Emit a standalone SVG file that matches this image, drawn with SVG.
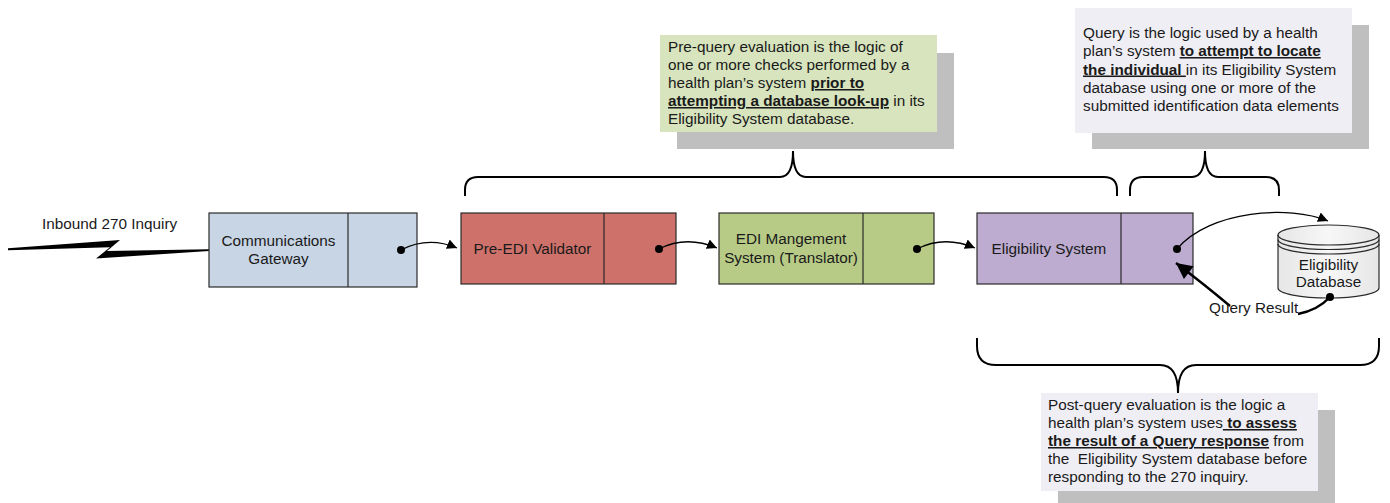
<svg xmlns="http://www.w3.org/2000/svg" width="1390" height="503" viewBox="0 0 1390 503">
<defs>
<style>
text{font-family:"Liberation Sans",Arial,sans-serif;font-size:15.3px;fill:#1a1a1a;white-space:pre}
.c{text-anchor:middle}
.b{font-weight:bold;text-decoration:underline}
.box{stroke:#2b2b2b;stroke-width:1.2}
.shadow{fill:#bfbfbf}
.brace{fill:none;stroke:#000;stroke-width:2}
.conn{fill:none;stroke:#000;stroke-width:1.3}
.thick{fill:none;stroke:#000;stroke-width:2.5}
</style>
<marker id="arr" viewBox="0 0 10 10" refX="10" refY="5" markerWidth="10" markerHeight="10" markerUnits="userSpaceOnUse" orient="auto">
<path d="M0,0 L10,5 L0,10 Z" fill="#000"/>
</marker>
<marker id="arrBig" viewBox="0 0 10 10" refX="10" refY="5" markerWidth="18" markerHeight="16" markerUnits="userSpaceOnUse" orient="auto">
<path d="M0,0 L10,5 L0,10 Z" fill="#000"/>
</marker>
<linearGradient id="dbfill" x1="0" y1="0" x2="1" y2="0">
<stop offset="0" stop-color="#e6e6e6"/>
<stop offset="0.5" stop-color="#f7f7f7"/>
<stop offset="1" stop-color="#e6e6e6"/>
</linearGradient>
</defs>
<rect width="1390" height="503" fill="#fff"/>

<g id="note-prequery">
<rect class="shadow" x="677" y="53" width="277" height="96"/>
<rect x="660" y="35" width="277" height="97" fill="#d7e4bd"/>
<text x="668" y="52">Pre-query evaluation is the logic of</text>
<text x="668" y="70">one or more checks performed by a</text>
<text x="668" y="88">health plan’s system <tspan class="b">prior to</tspan></text>
<text x="668" y="106"><tspan class="b">attempting a database look-up</tspan> in its</text>
<text x="668" y="124">Eligibility System database.</text>
</g>

<g id="note-query">
<rect class="shadow" x="1092" y="25" width="277" height="124"/>
<rect x="1075" y="8" width="277" height="125" fill="#efeef4"/>
<text x="1083" y="38">Query is the logic used by a health</text>
<text x="1083" y="56">plan’s system <tspan class="b">to attempt to locate</tspan></text>
<text x="1083" y="74.5"><tspan class="b">the individual </tspan>in its Eligibility System</text>
<text x="1083" y="92.5">database using one or more of the</text>
<text x="1083" y="111">submitted identification data elements</text>
</g>

<g id="note-postquery">
<rect class="shadow" x="1058" y="410" width="277" height="93"/>
<rect x="1041" y="393" width="277" height="98" fill="#efeef4"/>
<text x="1048" y="410">Post-query evaluation is the logic a</text>
<text x="1048" y="428">health plan’s system uses<tspan class="b"> to assess</tspan></text>
<text x="1048" y="446"><tspan class="b">the result of a Query response</tspan> from</text>
<text x="1048" y="464">the  Eligibility System database before</text>
<text x="1048" y="482">responding to the 270 inquiry.</text>
</g>

<g id="braces">
<path class="brace" d="M465,196 V190 Q465,177 478,177 H780 Q793,177 793,151 Q793,177 806,177 H1104 Q1117,177 1117,190 V196"/>
<path class="brace" d="M1130,196 V190 Q1130,177 1143,177 H1192 Q1205,177 1205,151 Q1205,177 1218,177 H1266 Q1279,177 1279,190 V196"/>
<path class="brace" d="M977,338 V346 Q977,365 996,365 H1160 Q1178,365 1178,393 Q1178,365 1196,365 H1360 Q1379,365 1379,346 V338"/>
</g>

<g id="inbound">
<polygon points="8,248.3 120,240 107,251 209,249.2 209,251 96,258.5 110,247.3 8,250.3" fill="#000"/>
<text x="42" y="229">Inbound 270 Inquiry</text>
</g>

<g id="node-gateway">
<rect class="box" x="209" y="213" width="208" height="74" fill="#c8d5e5"/>
<line class="box" x1="348" y1="213" x2="348" y2="287"/>
<text class="c" x="278.5" y="246">Communications</text>
<text class="c" x="278.5" y="264">Gateway</text>
</g>

<g id="node-preedi">
<rect class="box" x="461" y="213" width="215" height="71" fill="#ce716a"/>
<line class="box" x1="604" y1="213" x2="604" y2="284"/>
<text class="c" x="532.5" y="254">Pre-EDI Validator</text>
</g>

<g id="node-edi">
<rect class="box" x="719" y="213" width="215" height="71" fill="#b7cb87"/>
<line class="box" x1="863" y1="213" x2="863" y2="284"/>
<text class="c" x="791" y="244">EDI Mangement</text>
<text class="c" x="791" y="263">System (Translator)</text>
</g>

<g id="node-eligibility">
<rect class="box" x="977" y="213" width="216" height="71" fill="#bdabd0"/>
<line class="box" x1="1121" y1="213" x2="1121" y2="284"/>
<text class="c" x="1049" y="254">Eligibility System</text>
</g>

<g id="node-database">
<path d="M1278,235 A50.5,10 0 0 1 1379,235 V288 A50.5,10 0 0 1 1278,288 Z" fill="url(#dbfill)" stroke="#2b2b2b" stroke-width="1.2"/>
<path d="M1278,235 A50.5,10 0 0 0 1379,235" fill="none" stroke="#2b2b2b" stroke-width="1.2"/>
<path d="M1278,239.5 A50.5,10 0 0 0 1379,239.5" fill="none" stroke="#2b2b2b" stroke-width="1.2"/>
<path d="M1278,244 A50.5,10 0 0 0 1379,244" fill="none" stroke="#2b2b2b" stroke-width="1.2"/>
<text class="c" x="1328.5" y="270">Eligibility</text>
<text class="c" x="1328.5" y="287">Database</text>
</g>

<g id="connectors">
<circle cx="401" cy="250" r="4" fill="#000"/>
<path class="conn" d="M401,250 Q428,236 457,248" marker-end="url(#arr)"/>
<circle cx="659" cy="249" r="4" fill="#000"/>
<path class="conn" d="M659,249 Q686,235 717,248" marker-end="url(#arr)"/>
<circle cx="917" cy="249" r="4" fill="#000"/>
<path class="conn" d="M917,249 Q944,235 975,248" marker-end="url(#arr)"/>
<circle cx="1177" cy="249" r="4" fill="#000"/>
<path class="conn" d="M1177,249 C1210,210 1290,205 1328,221" marker-end="url(#arr)"/>
<circle cx="1330" cy="297" r="4" fill="#000"/>
<path class="thick" d="M1330,297 Q1318,310 1298,314"/>
<path class="thick" d="M1230,306 Q1205,285 1176,263" marker-end="url(#arrBig)"/>
<text x="1209" y="313">Query Result</text>
</g>
</svg>
